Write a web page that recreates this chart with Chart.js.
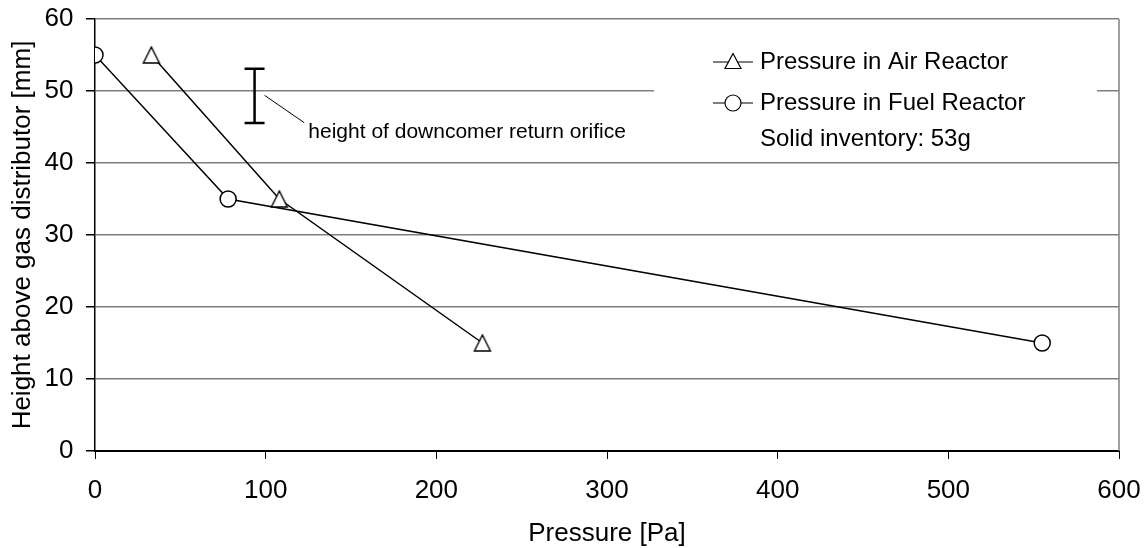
<!DOCTYPE html>
<html>
<head>
<meta charset="utf-8">
<script src="https://cdn.jsdelivr.net/npm/chart.js@4/dist/chart.umd.min.js"></script>
<style>
  html, body { margin: 0; padding: 0; background: #fff; }
  #wrap { width: 1144px; height: 548px; }
</style>
</head>
<body>
<div id="wrap"><canvas id="pressureChart" width="1144" height="548"></canvas></div>
<script>
// Data
const airPressure = [33, 108, 227];     // Pa
const airHeight = [55, 35, 15];         // mm
const fuelPressure = [0, 78, 555];      // Pa
const fuelHeight = [55, 35, 15];        // mm
const xTicks = [0, 100, 200, 300, 400, 500, 600];
const yTicks = [0, 10, 20, 30, 40, 50, 60];
const seriesNames = ['Pressure in Air Reactor', 'Pressure in Fuel Reactor'];
const inventoryNote = 'Solid inventory: 53g';
const orificeNote = 'height of downcomer return orifice';
// orifice height range (mm) and its x position (Pa)
const orificeRange = [45.55, 53.1];
const orificeX = 93.5;

const FONT = "'Liberation Sans', Arial, sans-serif";

const toPoints = (xs, ys) => xs.map((x, i) => ({ x: x, y: ys[i] }));

// open triangle marker, a bit taller than chart.js' own
function triangleMarker(w, h) {
    const c = document.createElement('canvas');
    c.width = w + 4; c.height = h + 4;
    const g = c.getContext('2d');
    g.fillStyle = '#fff';
    g.strokeStyle = '#000';
    g.lineWidth = 1.4;
    g.beginPath();
    g.moveTo(c.width / 2, 2);
    g.lineTo(c.width - 2, c.height - 2);
    g.lineTo(2, c.height - 2);
    g.closePath();
    g.fill();
    g.stroke();
    return c;
}

// Draws legend box, orifice bar and frame
const extras = {
    id: 'extras',
    beforeDatasetsDraw(chart) {
        const { ctx, chartArea: a } = chart;
        ctx.save();
        // right frame
        ctx.strokeStyle = '#808080';
        ctx.lineWidth = 1.5;
        ctx.beginPath();
        ctx.moveTo(a.right, a.top);
        ctx.lineTo(a.right, a.bottom);
        ctx.stroke();
        // legend background covers the gridline
        ctx.fillStyle = '#fff';
        ctx.fillRect(654, 30, 443, 120);
        ctx.restore();
    },
    afterDatasetsDraw(chart) {
        const { ctx } = chart;
        const xs = chart.scales.x, ys = chart.scales.y;
        ctx.save();
        // orifice bar
        const bx = xs.getPixelForValue(orificeX);
        const bTop = ys.getPixelForValue(orificeRange[1]);
        const bBot = ys.getPixelForValue(orificeRange[0]);
        ctx.strokeStyle = '#000';
        ctx.lineWidth = 2.5;
        ctx.beginPath();
        ctx.moveTo(bx, bTop); ctx.lineTo(bx, bBot);
        ctx.moveTo(bx - 10, bTop); ctx.lineTo(bx + 10, bTop);
        ctx.moveTo(bx - 10, bBot); ctx.lineTo(bx + 10, bBot);
        ctx.stroke();
        // leader line
        ctx.lineWidth = 1;
        ctx.beginPath();
        ctx.moveTo(bx + 10, ys.getPixelForValue(49.4));
        ctx.lineTo(xs.getPixelForValue(122.6), ys.getPixelForValue(45.6));
        ctx.stroke();
        ctx.fillStyle = '#000';
        ctx.font = '21px ' + FONT;
        ctx.textBaseline = 'middle';
        ctx.fillText(orificeNote, xs.getPixelForValue(125), ys.getPixelForValue(44.3));

        // legend
        ctx.font = '24px ' + FONT;
        ctx.lineWidth = 1.2;
        const rows = [62, 103];
        rows.forEach((ry, i) => {
            ctx.strokeStyle = '#000';
            ctx.beginPath();
            ctx.moveTo(713, ry); ctx.lineTo(753, ry);
            ctx.stroke();
            ctx.fillStyle = '#fff';
            ctx.beginPath();
            if (i === 0) {
                ctx.moveTo(733, ry - 8.5);
                ctx.lineTo(741, ry + 6.5);
                ctx.lineTo(725, ry + 6.5);
                ctx.closePath();
            } else {
                ctx.arc(733, ry, 8, 0, Math.PI * 2);
            }
            ctx.fill();
            ctx.stroke();
            ctx.fillStyle = '#000';
            ctx.fillText(seriesNames[i], 760, ry);
        });
        ctx.fillText(inventoryNote, 760, 139);
        ctx.restore();
    }
};

const config = {
    type: 'scatter',
    data: {
        datasets: [{
            label: seriesNames[0],
            data: toPoints(airPressure, airHeight),
            showLine: true,
            borderColor: '#000',
            borderWidth: 1.5,
            pointStyle: triangleMarker(16, 16),
            pointRadius: 9,
            pointBackgroundColor: '#fff',
            pointBorderColor: '#000',
            pointBorderWidth: 1.5
        }, {
            label: seriesNames[1],
            data: toPoints(fuelPressure, fuelHeight),
            showLine: true,
            borderColor: '#000',
            borderWidth: 1.5,
            pointStyle: 'circle',
            pointRadius: 8,
            pointBackgroundColor: '#fff',
            pointBorderColor: '#000',
            pointBorderWidth: 1.5
        }]
    },
    options: {
        responsive: false,
        animation: false,
        layout: { padding: { top: 19, right: 25, left: 0, bottom: 0 } },
        plugins: {
            legend: { display: false },
            tooltip: { enabled: false }
        },
        scales: {
            x: {
                type: 'linear',
                min: 0, max: 600,
                afterBuildTicks: (s) => { s.ticks = xTicks.map(v => ({ value: v })); },
                afterFit: (s) => { s.height = 97; s.paddingLeft = 0; s.paddingRight = 0; },
                border: { color: '#000', width: 2 },
                grid: { drawOnChartArea: false, drawTicks: true, tickLength: 8, tickColor: '#000', lineWidth: 1 },
                ticks: { color: '#000', padding: 16.5, maxRotation: 0, font: { family: FONT, size: 26 } },
                title: {
                    display: true, text: 'Pressure [Pa]', color: '#000',
                    font: { family: FONT, size: 26 }, padding: { top: 0, bottom: -1 }
                }
            },
            y: {
                type: 'linear',
                min: 0, max: 60,
                afterBuildTicks: (s) => { s.ticks = yTicks.map(v => ({ value: v })); },
                afterFit: (s) => { s.width = 95; s.paddingTop = 0; s.paddingBottom = 0; },
                border: { color: '#000', width: 1.5 },
                grid: {
                    color: '#808080', lineWidth: 1.5,
                    drawTicks: true, tickLength: 9, tickColor: '#000'
                },
                ticks: { color: '#000', padding: 12.5, font: { family: FONT, size: 26 } },
                title: {
                    display: true, text: 'Height above gas distributor [mm]', color: '#000',
                    font: { family: FONT, size: 26 }, padding: { top: 7, bottom: 0 }
                }
            }
        }
    },
    plugins: [extras]
};

window.onload = () => {
    const ctx = document.getElementById('pressureChart').getContext('2d');
    new Chart(ctx, config);
};
</script>
</body>
</html>
